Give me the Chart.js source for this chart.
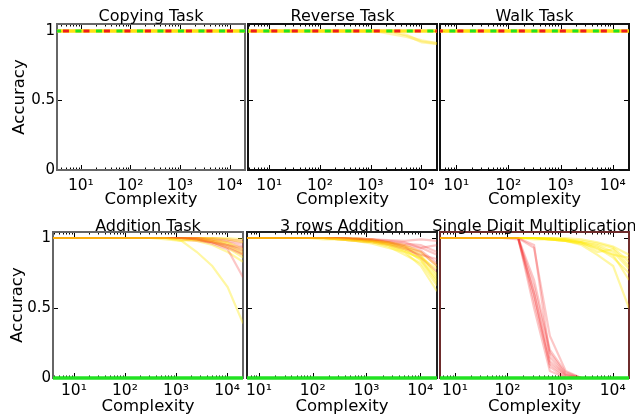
<!DOCTYPE html>
<html>
<head>
<meta charset="utf-8">
<script src="https://cdn.jsdelivr.net/npm/chart.js@4.4.0/dist/chart.umd.min.js"></script>
<style>
html, body { margin: 0; padding: 0; background: #fff; width: 635px; height: 415px; overflow: hidden; position: relative; }
canvas { position: absolute; }
</style>
</head>
<body>
<script>
// ---------------- DATA ----------------
const complexity = [3, 5, 10, 20, 40, 80, 160, 320, 640, 1280, 2560, 5120, 10240, 20480];
const xTickValues = [10, 100, 1000, 10000];
const xTickLabels = ['10¹', '10²', '10³', '10⁴'];
const yTickValues = [0, 0.5, 1];
const yTickLabels = ['0', '0.5', '1'];
const panelTitles = ['Copying Task', 'Reverse Task', 'Walk Task', 'Addition Task', '3 rows Addition', 'Single Digit Multiplication'];
const xAxisTitle = 'Complexity';
const yAxisTitle = 'Accuracy';

// Copying Task
const copyingYellow = [
  [1,1,1,1,1,1,1,1,1,1,1,1,1,1],
  [1,1,1,1,1,1,1,1,1,1,1,1,1,1],
  [1,1,1,1,1,1,1,1,1,1,1,1,1,1],
  [1,1,1,1,1,1,1,1,1,1,1,1,1,1],
  [1,1,1,1,1,1,1,1,1,1,1,1,1,1],
  [1,1,1,1,1,1,1,1,1,1,1,1,1,1],
  [1,1,1,1,1,1,1,1,1,1,1,1,1,1],
  [1,1,1,1,1,1,1,1,1,1,1,1,1,1]
];
const copyingRed = [1,1,1,1,1,1,1,1,1,1,1,1,1,1];
const copyingGreen = [1,1,1,1,1,1,1,1,1,1,1,1,1,1];

// Reverse Task
const reverseYellow = [
  [1,1,1,1,1,1,1,1,1,1,1,1,1,1],
  [1,1,1,1,1,1,1,1,1,1,1,1,1,1],
  [1,1,1,1,1,1,1,1,1,1,1,1,1,1],
  [1,1,1,1,1,1,1,1,1,1,1,1,1,1],
  [1,1,1,1,1,1,1,1,1,1,1,1,1,1],
  [1,1,1,1,1,1,1,1,1,1,1,1,1,1],
  [1,1,1,1,1,1,1,1,1,1,0.98,0.96,0.93,0.91],
  [1,1,1,1,1,1,1,1,1,1,1,0.97,0.92,0.91]
];
const reverseRed = [1,1,1,1,1,1,1,1,1,1,1,1,1,1];
const reverseGreen = [1,1,1,1,1,1,1,1,1,1,1,1,1,1];

// Walk Task
const walkYellow = [
  [1,1,1,1,1,1,1,1,1,1,1,1,1,1],
  [1,1,1,1,1,1,1,1,1,1,1,1,1,1],
  [1,1,1,1,1,1,1,1,1,1,1,1,1,1],
  [1,1,1,1,1,1,1,1,1,1,1,1,1,1],
  [1,1,1,1,1,1,1,1,1,1,1,1,1,1],
  [1,1,1,1,1,1,1,1,1,1,1,1,1,1],
  [1,1,1,1,1,1,1,1,1,1,1,1,1,1],
  [1,1,1,1,1,1,1,1,1,1,1,1,1,1]
];
const walkRed = [1,1,1,1,1,1,1,1,1,1,1,1,1,1];
const walkGreen = [1,1,1,1,1,1,1,1,1,1,1,1,1,1];

// Addition Task
const additionRed = [
  [1,1,1,1,1,1,1,1,1,1,0.99,0.96,0.92,0.72],
  [1,1,1,1,1,1,1,1,1,1,0.99,0.97,0.93,0.88],
  [1,1,1,1,1,1,1,1,1,1,1,0.98,0.95,0.91],
  [1,1,1,1,1,1,1,1,1,0.99,0.98,0.97,0.95,0.93],
  [1,1,1,1,1,1,1,1,1,1,1,0.99,0.98,0.96],
  [1,1,1,1,1,1,1,1,1,1,1,1,0.99,0.98],
  [1,1,1,1,1,1,1,1,1,1,0.99,0.97,0.94,0.89],
  [1,1,1,1,1,1,1,1,1,1,1,0.99,0.97,0.94]
];
const additionYellow = [
  [1,1,1,1,1,1,1,1,1,0.98,0.9,0.8,0.65,0.39],
  [1,1,1,1,1,1,1,1,1,0.99,0.98,0.95,0.9,0.83],
  [1,1,1,1,1,1,1,1,1,1,0.99,0.97,0.93,0.86],
  [1,1,1,1,1,1,1,1,0.99,0.98,0.99,0.98,0.95,0.88],
  [1,1,1,1,1,1,1,1,1,1,1,0.99,0.97,0.92],
  [1,1,1,1,1,1,1,1,1,1,1,1,0.99,0.97],
  [1,1,1,1,1,1,1,1,1,1,0.99,0.98,0.96,0.9],
  [1,1,1,1,1,1,1,1,1,1,1,1,1,0.99]
];
const additionGreen = [0,0,0,0,0,0,0,0,0,0,0,0,0,0];

// 3 rows Addition
const threeRowsRed = [
  [1,1,1,1,1,1,1,1,0.995,0.99,0.985,0.98,0.99,0.98],
  [1,1,1,1,1,1,1,1,0.99,0.98,0.97,0.95,0.93,0.95],
  [1,1,1,1,1,1,1,0.99,0.98,0.97,0.95,0.92,0.88,0.85],
  [1,1,1,1,1,1,1,1,0.99,0.98,0.96,0.93,0.9,0.8],
  [1,1,1,1,1,1,1,1,0.99,0.99,0.97,0.94,0.86,0.76],
  [1,1,1,1,1,1,1,0.995,0.99,0.98,0.97,0.96,0.95,0.9],
  [1,1,1,1,1,1,1,1,1,0.99,0.98,0.97,0.93,0.88],
  [1,1,1,1,1,1,1,1,0.99,0.98,0.96,0.94,0.91,0.82]
];
const threeRowsYellow = [
  [1,1,1,1,1,1,1,0.99,0.98,0.97,0.95,0.9,0.8,0.62],
  [1,1,1,1,1,1,1,1,0.99,0.98,0.96,0.92,0.84,0.7],
  [1,1,1,1,1,1,1,0.99,0.98,0.97,0.94,0.88,0.82,0.66],
  [1,1,1,1,1,1,1,1,0.99,0.98,0.97,0.94,0.88,0.74],
  [1,1,1,1,1,1,0.99,0.99,0.98,0.96,0.93,0.9,0.86,0.78],
  [1,1,1,1,1,1,1,1,1,0.99,0.97,0.95,0.9,0.8],
  [1,1,1,1,1,1,1,0.99,0.99,0.98,0.96,0.93,0.87,0.72],
  [1,1,1,1,1,1,1,1,0.99,0.98,0.95,0.91,0.85,0.68]
];
const threeRowsGreen = [0,0,0,0,0,0,0,0,0,0,0,0,0,0];

// Single Digit Multiplication
const multiplicationRed = [
  [1,1,1,1,1,1,1,0.95,0.15,0.02,0,0,0,0],
  [1,1,1,1,1,1,1,0.93,0.3,0.05,0,0,0,0],
  [1,1,1,1,1,1,0.99,0.6,0.08,0,0,0,0,0],
  [1,1,1,1,1,1,1,0.55,0.1,0.01,0,0,0,0],
  [1,1,1,1,1,1,1,0.65,0.18,0.03,0,0,0,0],
  [1,1,1,1,1,1,1,0.5,0.05,0,0,0,0,0],
  [1,1,1,1,1,1,1,0.7,0.2,0.04,0,0,0,0],
  [1,1,1,1,1,1,1,0.6,0.12,0.02,0,0,0,0]
];
const multiplicationYellow = [
  [1,1,1,1,1,1,1,1,0.99,0.98,0.95,0.88,0.8,0.5],
  [1,1,1,1,1,1,1,1,1,0.99,0.97,0.92,0.88,0.7],
  [1,1,1,1,1,1,1,1,0.99,0.98,0.97,0.95,0.9,0.78],
  [1,1,1,1,1,1,1,1,1,0.99,0.98,0.96,0.93,0.83],
  [1,1,1,1,1,1,1,1,0.99,0.99,0.97,0.94,0.88,0.86],
  [1,1,1,1,1,1,1,0.99,0.99,0.98,0.96,0.9,0.92,0.8],
  [1,1,1,1,1,1,1,1,1,1,0.99,0.97,0.94,0.88],
  [1,1,1,1,1,1,1,1,0.99,0.98,0.96,0.93,0.86,0.75]
];
const multiplicationGreen = [0,0,0,0,0,0,0,0,0,0,0,0,0,0];

// ---------------- LAYOUT / STYLE ----------------
const FONT = 'DejaVu Sans';
const panels = [
  { l: 57,  t: 24,  r: 245, b: 170, xmin: 3.3, xmax: 20480, ymax: 1.05,  yAxis: true,  padL: 10, xh: 40, tickPad: 7, titleGap: 3, frame: '#666', top: true,
    yellow: copyingYellow, red: copyingRed, green: copyingGreen },
  { l: 248, t: 24,  r: 437, b: 170, xmin: 3.8, xmax: 20480, ymax: 1.05,  yAxis: false, xh: 40, tickPad: 7, titleGap: 3, frame: '#111', top: true,
    yellow: reverseYellow, red: reverseRed, green: reverseGreen },
  { l: 440, t: 24,  r: 629, b: 170, xmin: 4.9, xmax: 20480, ymax: 1.05,  yAxis: false, xh: 40, tickPad: 7, titleGap: 3, frame: '#111', top: true, last: true,
    yellow: walkYellow, red: walkRed, green: walkGreen },
  { l: 53,  t: 232, r: 243, b: 378, xmin: 3.9, xmax: 20480, ymax: 1.043, yAxis: true,  padL: 8, xh: 39, tickPad: 4, titleGap: 1, frame: '#666', top: false,
    yellow: additionYellow, red: additionRed, green: additionGreen },
  { l: 247, t: 232, r: 437, b: 378, xmin: 6,   xmax: 20480, ymax: 1.043, yAxis: false, xh: 39, tickPad: 4, titleGap: 1, frame: '#222', top: false,
    yellow: threeRowsYellow, red: threeRowsRed, green: threeRowsGreen },
  { l: 440, t: 232, r: 629, b: 378, xmin: 5.2, xmax: 20480, ymax: 1.043, yAxis: false, xh: 39, tickPad: 4, titleGap: 1, frame: '#6e2c2c', top: false, last: true,
    yellow: multiplicationYellow, red: multiplicationRed, green: multiplicationGreen }
];

const CLIP = { left: 0, right: 0, top: 3, bottom: 3 };
function lineDs(values, color, width, dash, offset) {
  return {
    data: values.map((v, i) => ({ x: complexity[i], y: v })),
    borderColor: color,
    borderWidth: width,
    borderDash: dash || [],
    borderDashOffset: offset || 0,
    pointRadius: 0,
    tension: 0,
    fill: false,
    clip: CLIP
  };
}

function makeDecor(p, title) {
  return {
    id: 'decor',
    beforeDatasetsDraw(chart) {
      const { ctx, chartArea: a, scales: { x, y } } = chart;
      ctx.save();
      ctx.strokeStyle = '#000';
      ctx.lineWidth = 1;
      ctx.beginPath();
      for (let e = 0; e <= 4; e++) {
        for (let k = 1; k <= 9; k++) {
          const v = k * Math.pow(10, e);
          if (v <= x.min || v >= x.max) continue;
          const px = Math.round(x.getPixelForValue(v)) + 0.5;
          const len = k === 1 ? 5 : 2.5;
          ctx.moveTo(px, a.top); ctx.lineTo(px, a.top + len);
          ctx.moveTo(px, a.bottom); ctx.lineTo(px, a.bottom - len);
        }
      }
      yTickValues.forEach(v => {
        const py = Math.round(y.getPixelForValue(v)) + 0.5;
        ctx.moveTo(a.left, py); ctx.lineTo(a.left + 5, py);
        ctx.moveTo(a.right, py); ctx.lineTo(a.right - 5, py);
      });
      ctx.stroke();
      ctx.strokeStyle = p.frame;
      ctx.lineWidth = 2;
      ctx.strokeRect(a.left, a.top, a.right - a.left, a.bottom - a.top);
      ctx.restore();
    },
    afterDraw(chart) {
      const { ctx, chartArea: a } = chart;
      ctx.save();
      ctx.font = '16px "' + FONT + '"';
      ctx.fillStyle = '#000';
      ctx.textAlign = 'center';
      ctx.textBaseline = 'alphabetic';
      ctx.fillText(title, (a.left + a.right) / 2, a.top - p.titleGap);
      ctx.restore();
    }
  };
}

panels.forEach((p, idx) => {
  const canvasLeft = p.yAxis ? 0 : p.l - 14;
  const canvasRight = p.last ? 635 : p.r + 3;
  const padL = p.yAxis ? p.padL : 14;
  const padR = canvasRight - p.r;
  const canvasTop = p.t - 24;
  const width = canvasRight - canvasLeft;
  const height = (p.b - p.t) + 24 + p.xh;

  const canvas = document.createElement('canvas');
  canvas.width = width;
  canvas.height = height;
  canvas.style.left = canvasLeft + 'px';
  canvas.style.top = canvasTop + 'px';
  canvas.style.width = width + 'px';
  canvas.style.height = height + 'px';
  document.body.appendChild(canvas);

  const datasets = [];
  if (p.top) {
    datasets.push(lineDs(p.green, '#22e222', 3, [6, 14.5], 0));
    datasets.push(lineDs(p.red, '#ee1c1c', 3, [6, 14.5], 12.5));
    p.yellow.forEach(run => datasets.push(lineDs(run, 'rgba(255,222,0,0.3)', 3)));
  } else {
    datasets.push(lineDs(p.green, '#22e222', 3.5));
    // interleave yellow and red runs (first in list is drawn on top)
    for (let i = 0; i < Math.max(p.yellow.length, p.red.length); i++) {
      if (p.yellow[i]) datasets.push(lineDs(p.yellow[i], 'rgba(255,232,0,0.36)', 2.2));
      if (p.red[i]) datasets.push(lineDs(p.red[i], 'rgba(245,40,40,0.26)', 2.2));
    }
  }

  new Chart(canvas, {
    type: 'line',
    data: { datasets },
    plugins: [makeDecor(p, panelTitles[idx])],
    options: {
      responsive: false,
      animation: false,
      devicePixelRatio: 1,
      events: [],
      layout: { padding: { left: padL, right: padR, top: 24, bottom: 0 } },
      plugins: { legend: { display: false }, title: { display: false }, tooltip: { enabled: false } },
      scales: {
        x: {
          type: 'logarithmic',
          position: 'bottom',
          min: p.xmin,
          max: p.xmax,
          afterBuildTicks: s => { s.ticks = xTickValues.map(v => ({ value: v })); },
          afterFit: s => { s.height = p.xh; s.paddingLeft = 0; s.paddingRight = 0; },
          grid: { display: false, drawTicks: false },
          border: { display: false },
          ticks: {
            autoSkip: false, maxRotation: 0, minRotation: 0,
            padding: p.tickPad, color: '#000',
            font: { family: FONT, size: 15.5 },
            callback: (v, i) => xTickLabels[i]
          },
          title: {
            display: true, text: xAxisTitle, color: '#000',
            font: { family: FONT, size: 16.5, lineHeight: 1.2 },
            padding: { top: 0, bottom: 0 }
          }
        },
        y: {
          type: 'linear',
          display: p.yAxis,
          min: 0,
          max: p.ymax,
          afterBuildTicks: s => { s.ticks = yTickValues.map(v => ({ value: v })); },
          afterFit: s => { if (p.yAxis) { s.width = p.l - p.padL; } s.paddingTop = 0; s.paddingBottom = 0; },
          grid: { display: false, drawTicks: false },
          border: { display: false },
          ticks: {
            padding: 2, color: '#000',
            font: { family: FONT, size: 15 },
            callback: (v, i) => yTickLabels[i]
          },
          title: {
            display: true, text: yAxisTitle, color: '#000',
            font: { family: FONT, size: 16.5, lineHeight: 1.2 },
            padding: { top: 0, bottom: 0 }
          }
        }
      }
    }
  });
});
</script>
</body>
</html>
